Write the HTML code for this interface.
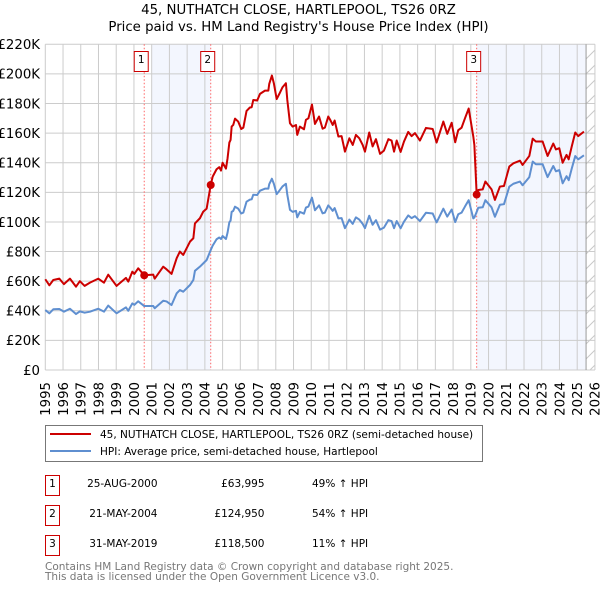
<!DOCTYPE html>
<html>
<head>
<meta charset="utf-8">
<title>45, Nuthatch Close price paid vs HPI</title>
<style>
html,body{margin:0;padding:0;background:#fff;}
svg{display:block;}
text{font-family:"DejaVu Sans","Liberation Sans",sans-serif;fill:#000;}
</style>
</head>
<body>
<svg id="chart" xmlns="http://www.w3.org/2000/svg" width="600" height="590" viewBox="0 0 600 590">
  <defs>
    <pattern id="hatch" patternUnits="userSpaceOnUse" width="15" height="15">
      <path d="M-1 16 L16 -1" stroke="#c8c8c8" stroke-width="1" fill="none"/>
    </pattern>
  </defs>
  <text x="298.5" y="14" text-anchor="middle" font-size="13.3">45, NUTHATCH CLOSE, HARTLEPOOL, TS26 0RZ</text>
  <text x="298.5" y="31" text-anchor="middle" font-size="13.3">Price paid vs. HM Land Registry's House Price Index (HPI)</text>
  <g id="plot"></g>

  <rect x="45.5" y="425.5" width="437" height="36" fill="#fff" stroke="#777" stroke-width="1"/>
  <line x1="50" x2="91" y1="434" y2="434" stroke="#cc0000" stroke-width="2"/>
  <line x1="50" x2="91" y1="451" y2="451" stroke="#5f8fd0" stroke-width="2"/>
  <text x="100" y="438" font-size="10.5">45, NUTHATCH CLOSE, HARTLEPOOL, TS26 0RZ (semi-detached house)</text>
  <text x="100" y="455" font-size="10.5">HPI: Average price, semi-detached house, Hartlepool</text>

  <g>
    <rect x="45.5" y="475.5" width="14" height="20" fill="#fff" stroke="#c00" stroke-width="1"/>
    <text x="52.5" y="487" text-anchor="middle" font-size="10.5">1</text>
    <text x="157.5" y="487" text-anchor="end" font-size="10.5">25-AUG-2000</text>
    <text x="264.5" y="487" text-anchor="end" font-size="10.5">£63,995</text>
    <text x="312" y="487" font-size="10.5">49% ↑ HPI</text>
  </g>
  <g>
    <rect x="45.5" y="505.5" width="14" height="20" fill="#fff" stroke="#c00" stroke-width="1"/>
    <text x="52.5" y="517" text-anchor="middle" font-size="10.5">2</text>
    <text x="157.5" y="517" text-anchor="end" font-size="10.5">21-MAY-2004</text>
    <text x="264.5" y="517" text-anchor="end" font-size="10.5">£124,950</text>
    <text x="312" y="517" font-size="10.5">54% ↑ HPI</text>
  </g>
  <g>
    <rect x="45.5" y="535.5" width="14" height="20" fill="#fff" stroke="#c00" stroke-width="1"/>
    <text x="52.5" y="547" text-anchor="middle" font-size="10.5">3</text>
    <text x="157.5" y="547" text-anchor="end" font-size="10.5">31-MAY-2019</text>
    <text x="264.5" y="547" text-anchor="end" font-size="10.5">£118,500</text>
    <text x="312" y="547" font-size="10.5">11% ↑ HPI</text>
  </g>
  <text x="45" y="570" font-size="10.5" style="fill:#777">Contains HM Land Registry data © Crown copyright and database right 2025.</text>
  <text x="45" y="580" font-size="10.5" style="fill:#777">This data is licensed under the Open Government Licence v3.0.</text>
</svg>
<script>
var yearTicks = [1995,1996,1997,1998,1999,2000,2001,2002,2003,2004,2005,2006,2007,2008,2009,2010,2011,2012,2013,2014,2015,2016,2017,2018,2019,2020,2021,2022,2023,2024,2025,2026];
var valueTicks = [0,20,40,60,80,100,120,140,160,180,200,220];
var valueTickLabels = ["£0","£20K","£40K","£60K","£80K","£100K","£120K","£140K","£160K","£180K","£200K","£220K"];
var dates = [
1995.0,1995.23,1995.45,1995.79,1996.05,1996.39,1996.73,1996.95,1997.22,1997.52,
1997.99,1998.31,1998.55,1999.02,1999.55,1999.68,1999.91,2000.02,2000.24,2000.58,
2001.09,2001.17,2001.65,2001.84,2002.12,2002.41,2002.59,2002.78,2003.16,2003.35,
2003.44,2003.72,2003.91,2004.10,2004.33,2004.44,2004.66,2004.81,2004.91,2005.0,
2005.19,2005.28,2005.38,2005.45,2005.51,2005.6,2005.7,2005.88,2006.05,2006.17,
2006.35,2006.54,2006.64,2006.73,2006.95,2007.11,2007.39,2007.58,2007.63,2007.78,
2007.89,2008.05,2008.2,2008.38,2008.57,2008.65,2008.8,2008.95,2009.14,2009.21,
2009.36,2009.59,2009.70,2009.84,2010.04,2010.21,2010.44,2010.64,2010.77,2010.96,
2011.09,2011.21,2011.32,2011.53,2011.71,2011.90,2012.15,2012.34,2012.52,2012.71,
2012.90,2013.03,2013.27,2013.46,2013.65,2013.88,2014.10,2014.35,2014.53,2014.67,
2014.82,2015.04,2015.23,2015.47,2015.66,2015.85,2016.13,2016.47,2016.85,2017.07,
2017.45,2017.67,2017.92,2018.12,2018.29,2018.48,2018.67,2018.88,2019.14,2019.20,
2019.33,2019.42,2019.67,2019.82,2020.17,2020.36,2020.64,2020.87,2021.17,2021.4,
2021.77,2021.92,2022.3,2022.49,2022.67,2023.05,2023.33,2023.65,2023.8,2023.99,
2024.18,2024.4,2024.52,2024.69,2024.89,2025.06,2025.38
];
var priceValues = [
61.3,57.2,60.8,61.7,58,61.7,56.3,60,56.8,59,
61.7,59,64.4,56.8,62.2,59.7,66.4,64.9,68.7,64,
64.4,61.7,69.8,68,64.9,75.5,80,77.7,86.7,89,
99,102.5,107,109,124.95,130.6,135.6,137,134.7,140,
136,143,153.6,155.4,164.4,165.5,169.8,167.8,162.8,163.7,
175,177.3,177.5,182.4,182,186.5,188.7,188.7,193.2,198.9,
193.7,183,186.5,191,193.7,182.4,166.7,164.4,165.5,158.8,
164.4,162.6,169,170,179.3,166.2,171.2,163,163.7,171.2,
168.5,165.5,168.5,157.7,158,147.5,156.5,152,158.8,156.5,
152,147.5,160.4,151,155.9,146,148.2,155.9,155,147.5,
155,147.3,154.3,160.8,158,160,155,163.5,162.8,153.6,
167.8,159.5,167,153.8,162,163.7,170,176.6,157.7,152,
118.5,121.6,122,127.3,122,114.9,123.9,124.3,137.4,139.6,
141.4,138.5,144.6,156.3,154.3,154.3,144.6,153,149,149.8,
140,145.3,142.3,150.9,160.4,158,161
];
var hpiValues = [
40.5,38.3,41,41.2,39.4,41.4,37.8,39.6,38.7,39.4,
41.4,39.4,43.5,38.3,42.3,40,45,44,46.4,43.2,
43.2,41.7,46.8,46.3,43.9,51.8,54,52.9,57.4,60.8,
67,69.8,72,74.3,81,84,88.3,89.5,88.5,90.5,
88.5,92.8,99.8,100.9,106.8,107.5,110.3,109,105.7,106.3,
113.7,115.1,115.3,118.4,118.2,121.1,122.5,122.5,125.5,129.2,
125.8,118.8,121.1,124,125.8,118.4,108.2,106.8,107.5,103.1,
106.8,105.6,109.7,110.4,116.4,107.9,111.2,105.8,106.3,111.2,
109.4,107.5,109.4,102.4,102.6,95.8,101.6,98.7,103.1,101.6,
98.7,95.8,104.2,98.1,101.2,94.8,96.2,101.2,100.6,95.8,
100.6,95.7,100.2,104.4,102.6,103.9,100.6,106.2,105.7,99.7,
109,103.6,108.4,99.9,105.2,106.3,110.4,114.7,102.4,103,
106.8,109.6,109.9,114.7,109.9,103.5,111.6,112,123.8,125.8,
127.3,124.8,130.3,140.8,139,139,130.3,137.8,134.2,135,
126.1,130.9,128.2,135.9,144.5,142.3,145
];
var saleDates = [2000.58,2004.33,2019.33];
var saleValues = [63.995,124.95,118.5];
var saleLabels = ["1","2","3"];
var shadedPeriods = [[2001.0,2004.33],[2019.33,2025.5]];
var dataEndYear = 2025.5;

function x(year){ return 45.3 + (year - 1995) * 17.73; }
function y(value){ return 370 - value * 1.4805; }

var NS = 'http://www.w3.org/2000/svg';
var plot = document.getElementById('plot');
function mk(tag, attrs, parent){
  var el = document.createElementNS(NS, tag);
  for (var k in attrs) el.setAttribute(k, attrs[k]);
  (parent || plot).appendChild(el);
  return el;
}

var hatch = mk('rect', {x:x(dataEndYear), y:y(220), width:x(2026)-x(dataEndYear), height:y(0)-y(220), fill:'url(#hatch)'});



shadedPeriods.forEach(function(p){
  var band = mk('rect', {x:x(p[0]), y:y(220), width:x(p[1])-x(p[0]), height:y(0)-y(220), fill:'#f3f6fe'});
  
  
});

valueTicks.forEach(function(v, i){
  var gl = mk('line', {x1:x(1995), x2:x(2026), y1:y(v), y2:y(v), stroke:'#cccccc', 'stroke-width':1});
  
  
  var t = mk('text', {x:40, y:y(v)+4.8, 'text-anchor':'end', 'font-size':13.3});
  t.textContent = valueTickLabels[i];
  
  
});
yearTicks.forEach(function(yr){
  var gl = mk('line', {x1:x(yr), x2:x(yr), y1:y(220), y2:y(0), stroke:'#cccccc', 'stroke-width':1});
  
  
  var t = mk('text', {transform:'translate(' + (x(yr)+4.8) + ',382) rotate(-90)', 'text-anchor':'end', 'font-size':13.3});
  t.textContent = String(yr);
  
  
});

var endLine = mk('line', {x1:x(dataEndYear), x2:x(dataEndYear), y1:y(220), y2:y(0), stroke:'#999999', 'stroke-width':1});



saleDates.forEach(function(d){
  var vl = mk('line', {x1:x(d), x2:x(d), y1:y(220), y2:y(0), stroke:'#ff6666', 'stroke-width':1, 'stroke-dasharray':'1.5 2'});
  
  
});

function path(values){
  return values.map(function(v, i){ return (i ? 'L' : 'M') + x(dates[i]).toFixed(2) + ' ' + y(v).toFixed(2); }).join('');
}
var hpiLine = mk('path', {d:path(hpiValues), fill:'none', stroke:'#5f8fd0', 'stroke-width':2, 'stroke-linejoin':'round'});


var priceLine = mk('path', {d:path(priceValues), fill:'none', stroke:'#cc0000', 'stroke-width':2, 'stroke-linejoin':'round'});



saleDates.forEach(function(d, i){
  var c = mk('circle', {cx:x(d), cy:y(saleValues[i]), r:4, fill:'#cc0000'});
  
  
  var b = mk('rect', {x:x(d)-10, y:51.5, width:14, height:20, fill:'#fff', stroke:'#c00', 'stroke-width':1});
  
  
  var t = mk('text', {x:x(d)-3, y:63, 'text-anchor':'middle', 'font-size':10.5});
  t.textContent = saleLabels[i];
  
  
});
</script>
</body>
</html>
